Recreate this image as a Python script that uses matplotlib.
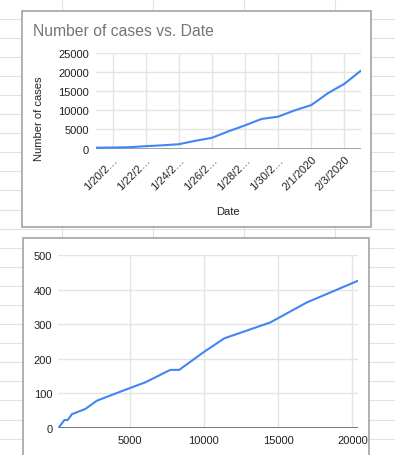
import matplotlib
matplotlib.use('Agg')
from matplotlib import pyplot as plt
from matplotlib.patches import Rectangle

plt.rcParams['font.family'] = ['Liberation Sans', 'DejaVu Sans']

# data
dates = ['1/19/2020', '1/20/2020', '1/21/2020', '1/22/2020', '1/23/2020',
         '1/24/2020', '1/25/2020', '1/26/2020', '1/27/2020', '1/28/2020',
         '1/29/2020', '1/30/2020', '1/31/2020', '2/1/2020', '2/2/2020',
         '2/3/2020', '2/4/2020']
cases = [200, 260, 330, 610, 830, 1120, 2020, 2800, 4500, 6060, 7740,
         8340, 9980, 11370, 14470, 16940, 20400]
deaths = [0, 3, 7, 23, 23, 40, 55, 79, 107, 132, 168, 168, 219, 259,
          305, 363, 426]
case_ticks = [0, 5000, 10000, 15000, 20000, 25000]
death_ticks = [0, 100, 200, 300, 400, 500]
x2_ticks = [5000, 10000, 15000, 20000]

W, H = 395, 456
BLUE = '#4285f4'
GRID = '#e4e4e4'
TEXT = '#222222'

fig = plt.figure(figsize=(W / 100, H / 100), dpi=100)

# spreadsheet cells behind the charts
bg = fig.add_axes([0, 0, 1, 1])
bg.set_xlim(0, W)
bg.set_ylim(H, 0)
bg.axis('off')
for x in [62, 153, 244, 335]:
    bg.axvline(x, color='#e2e2e2', lw=0.8, zorder=0)
for k in range(25):
    bg.axhline(0.4 + 19.1 * k, color='#e2e2e2', lw=0.8, zorder=0)

# chart frames
bg.add_patch(Rectangle((22, 12), 349, 216, fc='white', ec='#9b9b9b', lw=1.1, zorder=2))
bg.add_patch(Rectangle((23, 239), 346, 240, fc='white', ec='#9b9b9b', lw=1.1, zorder=2))

bg.text(33, 31, 'Number of cases vs. Date', fontsize=11.3, color='#757575',
        ha='left', va='center', zorder=3)
bg.text(38.5, 119, 'Number of cases', fontsize=8, color=TEXT, rotation=90,
        ha='center', va='center', zorder=3)
bg.text(228, 212, 'Date', fontsize=8, color=TEXT, ha='center', va='center', zorder=3)


def px_axes(left, top, right, bottom):
    return fig.add_axes([left / W, 1 - bottom / H, (right - left) / W, (bottom - top) / H])


def style(ax, pad_y, pad_x):
    for s in ax.spines.values():
        s.set_visible(False)
    ax.grid(True, color=GRID, lw=1.0)
    ax.set_axisbelow(True)
    ax.tick_params(length=0, labelsize=8, labelcolor=TEXT)
    ax.tick_params(axis='y', pad=pad_y)
    ax.tick_params(axis='x', pad=pad_x)
    ax.set_facecolor('none')


# top chart: cases by date
ax1 = px_axes(96, 54, 361, 149.5)
idx = list(range(len(dates)))
ax1.plot(idx, cases, color=BLUE, lw=1.5, solid_capstyle='round', zorder=3)
ax1.set_xlim(0, len(dates) - 1)
ax1.set_ylim(0, 25000)
ax1.set_yticks(case_ticks)
tick_idx = idx[1:-1:2]
ax1.set_xticks(tick_idx)
ax1.set_xticklabels([d if len(d) <= 8 else d[:6] + '\u2026' for d in
                     [dates[i] for i in tick_idx]],
                    rotation=45, ha='right', va='top', rotation_mode='anchor')
style(ax1, 5, 4)
ax1.axhline(0, color='#8a8a8a', lw=1.1, zorder=2)

# bottom chart: deaths vs cases
ax2 = px_axes(58.3, 256, 358.3, 429)
ax2.plot(cases, deaths, color=BLUE, lw=1.5, solid_capstyle='round', zorder=3)
ax2.set_xlim(cases[0], cases[-1])
ax2.set_ylim(0, 500)
ax2.set_yticks(death_ticks)
ax2.set_xticks(x2_ticks)
style(ax2, 4.3, 5)
ax2.axhline(0, color='#555555', lw=1.1, zorder=2)

fig.savefig('out.png', dpi=100)
